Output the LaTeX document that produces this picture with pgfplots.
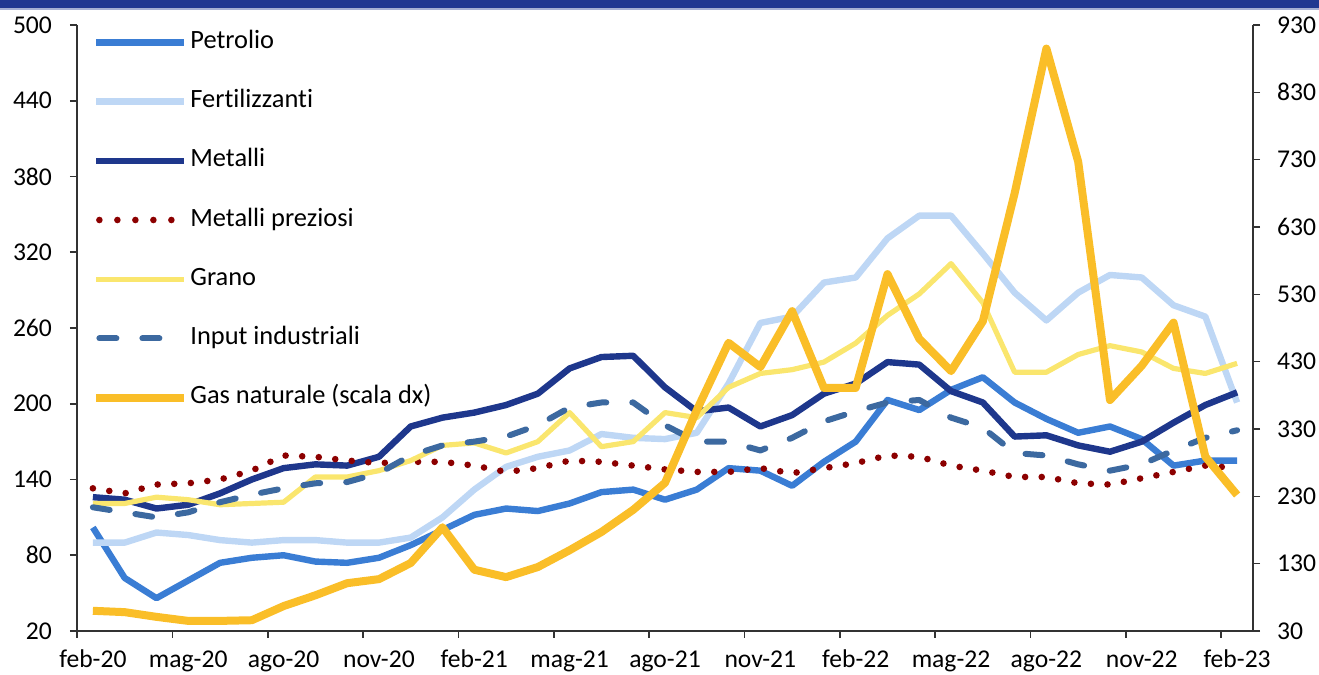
\documentclass[border=0pt]{standalone}
\usepackage{fontspec}
\setmainfont{Carlito}[Ligatures=NoCommon]
\usepackage{pgfplots}
\usepackage{pgfplotstable}
\pgfplotsset{compat=1.18}

\definecolor{cpet}{RGB}{58,125,212}
\definecolor{cfer}{RGB}{190,215,245}
\definecolor{cmet}{RGB}{30,55,140}
\definecolor{cpre}{RGB}{140,0,0}
\definecolor{cgra}{RGB}{250,230,110}
\definecolor{cinp}{RGB}{60,105,160}
\definecolor{cgas}{RGB}{250,190,40}
\definecolor{cband}{RGB}{33,55,145}

\pgfplotstableread{
i pet fer met pre gra inp gas
0 102 90 126 133 121 118 60
1 62 90 124 129 121 114 58
2 46 98 117 136 126 110 51
3 60 96 120 137 124 114 45
4 74 92 129 140 120 122 45
5 78 90 140 147 121 128 46
6 80 92 149 159 122 133 67
7 75 92 152 158 142 137 83
8 74 90 151 155 142 138 101
9 78 90 158 153 147 145 107
10 88 94 182 154 155 159 131
11 100 110 189 154 167 167 184
12 112 132 193 151 169 170 121
13 117 150 199 146 161 174 110
14 115 158 208 149 170 183 125
15 121 163 228 155 193 197 150
16 130 176 237 154 166 201 177
17 132 173 238 151 170 201 210
18 124 172 213 148 193 183 250
19 132 177 194 146 189 170 358
20 149 216 197 146 213 170 458
21 147 264 182 149 224 163 422
22 135 269 191 145 227 173 505
23 154 296 208 149 233 186 391
24 170 300 216 153 248 194 391
25 203 331 233 159 270 201 560
26 195 349 231 158 287 203 464
27 211 349 210 151 311 189 416
28 221 319 201 147 280 181 490
29 201 288 174 142 225 161 680
30 188 266 175 142 225 159 895
31 177 288 167 137 239 152 727
32 182 302 162 136 246 147 373
33 172 300 170 141 241 152 424
34 151 278 185 146 228 163 488
35 155 269 199 151 224 173 289
36 155 201 209 149 232 179 232
}\data

\pgfplotsset{
  common/.style={
    at={(38.5pt,22pt)}, anchor=south west,
    scale only axis, width=588pt, height=303pt,
    xmin=-0.5, xmax=36.5,
    axis line style={black!80, line width=0.8pt},
    tick style={black!80, line width=0.8pt},
    major tick length=3.5pt, tick align=outside,
    /pgf/number format/assume math mode=true,
    ticklabel style={font=\fontsize{12.8}{15}\selectfont},
  },
  lineleg/.style={legend image code/.code={\draw[##1] (0pt,0pt) -- (44pt,0pt);}},
  preleg/.style={legend image code/.code={\draw[##1, dash pattern=on 0pt off 9pt] (1.5pt,0pt) -- (37.6pt,0pt);}},
  inpleg/.style={legend image code/.code={\draw[##1] (1.5pt,0pt) -- (35pt,0pt);}},
  pet/.style={cpet, line width=3.2pt, line join=round, lineleg},
  fer/.style={cfer, line width=3.2pt, line join=round, lineleg},
  met/.style={cmet, line width=3.2pt, line join=round, lineleg},
  pre/.style={cpre, line width=3.3pt, line cap=round, dash pattern=on 0pt off 8.3pt, preleg},
  gra/.style={cgra, line width=2.6pt, line join=round, lineleg},
  inp/.style={cinp, line width=3pt, line cap=round, line join=round, dash pattern=on 8.5pt off 13pt, inpleg},
  gas/.style={cgas, line width=4pt, line join=round, lineleg},
}

\begin{document}
\fontsize{13}{15}\selectfont
\begin{tikzpicture}
\path[use as bounding box] (0,0) rectangle (659.5pt,337.5pt);
\fill[cband] (0,333.2pt) rectangle (659.5pt,337.5pt);
\draw[cband!40, line width=0.6pt] (0,333pt) -- (659.5pt,333pt);

\begin{axis}[
  common,
  ymin=20, ymax=500,
  axis x line*=bottom, axis y line*=left,
  ytick={20,80,...,500},
  yticklabel style={xshift=-4.5pt},
  xtick={-0.5,2.5,...,35.5}, xticklabels={},
  extra x ticks={0,3,...,36},
  extra x tick labels={feb-20,mag-20,ago-20,nov-20,feb-21,mag-21,ago-21,nov-21,feb-22,mag-22,ago-22,nov-22,feb-23},
  extra x tick style={major tick length=0pt, xticklabel style={anchor=base, yshift=-18.3pt}},
  legend style={at={(axis description cs:0,1)}, anchor=north west, xshift=4.5pt, yshift=-0.5pt,
    draw=none, fill=none, font=\fontsize{13.2}{15}\selectfont,
    row sep=17.6pt, column sep=1pt,
    nodes={inner sep=0pt, text height=9pt, text depth=3pt}},
  legend cell align=left,
]
\addplot[pet] table[x=i,y=pet] {\data};
\addlegendentry{Petrolio}
\addplot[fer] table[x=i,y=fer] {\data};
\addlegendentry{Fertilizzanti}
\addplot[met] table[x=i,y=met] {\data};
\addlegendentry{Metalli}
\addplot[pre] table[x=i,y=pre] {\data};
\addlegendentry{Metalli preziosi}
\addplot[gra] table[x=i,y=gra] {\data};
\addlegendentry{Grano}
\addplot[inp] table[x=i,y=inp] {\data};
\addlegendentry{Input industriali}
\addlegendimage{gas}
\addlegendentry{Gas naturale (scala dx)}
\end{axis}

\begin{axis}[
  common,
  ymin=30, ymax=930,
  axis x line=none, axis y line*=right,
  ytick={30,130,...,930},
  yticklabel style={xshift=4pt},
]
\addplot[gas] table[x=i,y=gas] {\data};
\end{axis}
\end{tikzpicture}
\end{document}
